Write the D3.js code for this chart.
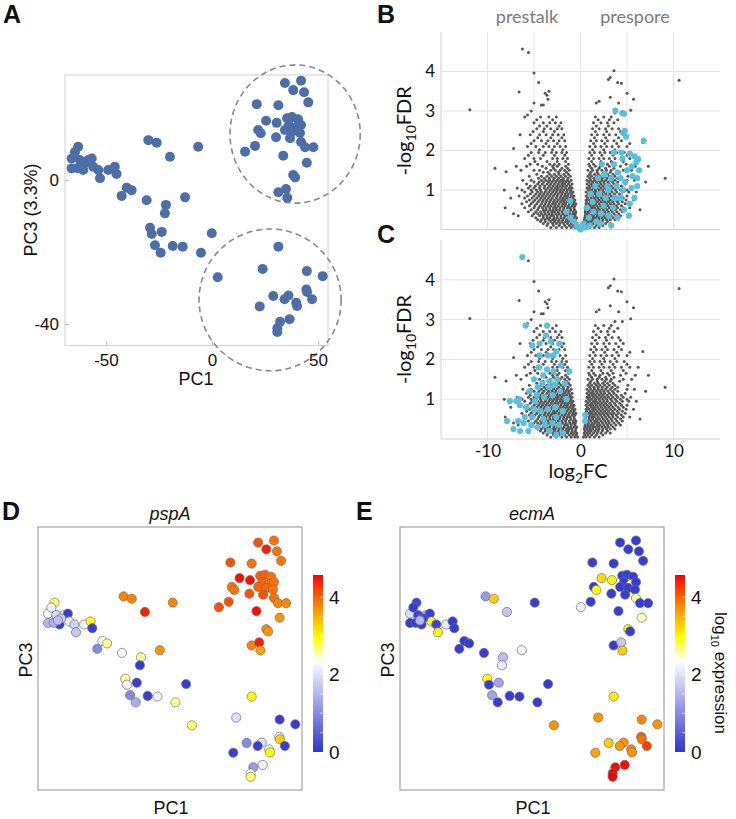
<!DOCTYPE html>
<html>
<head>
<meta charset="utf-8">
<script src="https://cdn.jsdelivr.net/npm/d3@7"></script>
<style>
body { margin: 0; background: #fff; }
text { font-family: "Liberation Sans", Arial, sans-serif; fill: #111; }
.cal { font-family: Lato, "Open Sans", sans-serif; }
</style>
</head>
<body>
<svg id="fig" width="736" height="819"></svg>
<script>
// ---- PCA samples (panels A, D, E share them) ----
var pc1 = [-63.1,-66.2,-66.2,-62.3,-60.7,-58.3,-56.7,-56.0,-59.9,-53.6,-52.8,-48.9,-45.8,-45.0,-63.5,-64.6,-61.5,
    -42.6,-40.2,-37.9,-30.8,-21.7,-22.2,-12.7,-30.0,-26.1,-19.8,-6.5,-29.2,-28.4,-23.7,-26.9,-24.2,-18.5,-13.8,-5.2,-0.1,2.7,
    34.4,42.0,38.3,43.4,45.4,21.1,31.3,25.5,21.8,23.0,30.5,35.4,37.7,40.6,36.3,39.6,42.0,34.4,38.2,41.5,30.2,36.8,20.3,15.6,
    42.0,43.9,47.8,33.6,44.7,38.3,39.2,31.3,34.9,35.5,
    31.3,23.9,44.7,52.2,28.9,36.1,34.2,44.5,44.8,39.7,40.1,47.2,22.5,32.1,36.6,30.8,30.8];
var pc3 = [9.25,6.0,3.25,5.6,2.8,5.6,6.0,3.7,4.6,2.8,0.5,2.8,3.7,1.7,3.3,7.8,4.0,
    -4.4,-2.1,-2.8,-5.6,-6.9,-9.25,-4.8,11.1,10.4,6.5,9.25,-13.25,-15.0,-14.4,-18.1,-20.2,-18.3,-18.5,-20.2,-14.8,-27.0,
    27.0,27.6,25.0,24.4,21.6,21.1,20.8,16.5,13.9,13.0,15.9,17.2,17.5,16.9,15.3,14.7,15.3,13.9,13.6,13.1,11.9,11.6,9.5,7.9,
    10.6,9.1,9.1,6.75,4.8,1.4,0.75,-3.4,-2.5,-4.9,
    -18.5,-24.7,-25.3,-26.7,-32.2,-32.1,-33.1,-30.4,-31.1,-34.1,-35.0,-33.1,-35.1,-39.4,-38.7,-41.2,-42.2];
var pspA = [2.7,2.3,1.5,1.9,0.1,2.6,0.1,2.2,1.7,1.8,1.7,2.2,2.9,0.1,1.4,2.2,1.6,
    1.0,2.3,2.6,2.3,2.6,0.1,3.7,3.8,3.8,4.4,3.8,2.6,2.2,0.1,1.0,1.4,0.1,2.2,2.6,0.1,2.7,
    4.1,3.9,4.4,3.9,3.9,4.1,3.9,4.5,3.9,3.9,4.5,4.0,4.0,3.9,4.0,3.9,3.9,4.0,3.95,3.9,4.1,4.1,4.1,4.1,
    3.9,3.8,3.8,4.5,3.7,3.7,3.7,3.8,4.4,3.6,
    2.95,2.0,0.1,0.1,1.0,2.0,0.1,2.3,3.3,2.3,2.95,0.1,0.1,1.2,2.2,2.3,2.7];
var ecmA = [0.2,2.0,0.1,0.2,0.1,1.4,0.1,3.0,0.2,0.2,3.0,2.1,0.1,0.1,0.1,0.1,1.5,
    0.1,0.1,0.1,0.1,1.6,2.1,2.2,1.2,3.3,1.7,0.1,2.95,0.1,1.3,1.3,0.1,0.1,0.1,0.1,0.1,3.7,
    0.1,0.1,0.1,0.1,0.1,0.1,0.1,3.2,0.1,2.95,3.0,0.1,0.1,0.1,0.1,2.6,0.1,0.1,0.1,0.1,0.1,0.1,0.1,2.2,
    2.6,0.1,0.1,0.1,2.5,2.95,0.1,0.1,1.7,3.3,
    3.1,3.7,3.8,3.7,3.3,3.7,3.7,4.0,3.9,3.8,3.7,4.2,3.6,4.5,4.5,4.6,4.6];

// dashed rings around the two clusters in A (data units: centre x, centre y, half-width, half-height)
var ringCx = [39.2, 27.4];
var ringCy = [12.8, -33.3];
var ringRx = [30.7, 33.5];
var ringRy = [19.2, 19.7];

var pcaXTicks = [-50, 0, 50];
var pcaYTicks = [0, -40];

// ---- volcano plots (B, C): all genes, log2FC by -log10FDR, one row per FDR level ----
var grayRows = [
    [0.05, [-3.2,-2.6,-2.0,-1.5,-1.0,-0.6,-0.3, 0.3,0.6,1.0,1.5,2.0]],
    [0.1,  [-3.6,-2.9,-2.3,-1.7,-1.2,-0.8,-0.45, 0.45,0.8,1.2,1.7,2.4]],
    [0.15, [-4.0,-3.5,-3.0,-2.6,-2.2,-1.8,-1.4,-1.0,-0.7,-0.4, 0.4,0.7,1.0,1.4,1.8,2.2,2.7,3.2]],
    [0.2,  [-4.3,-3.8,-3.2,-2.8,-2.4,-2.0,-1.6,-1.3,-0.9,-0.55, 0.5,0.85,1.15,1.55,1.9,2.35,2.9]],
    [0.25, [-4.6,-4.2,-3.8,-3.4,-3.0,-2.7,-2.3,-1.9,-1.5,-1.2,-0.9,-0.5, 0.4,0.7,1.0,1.3,1.7,2.0,2.4,2.8,3.2,3.7]],
    [0.3,  [-4.8,-4.0,-3.6,-3.3,-2.85,-2.5,-2.1,-1.75,-1.35,-1.05,-0.7,-0.4, 0.45,0.75,1.05,1.35,1.6,1.95,2.3,2.65,3.0,3.5]],
    [0.35, [-5.2,-4.4,-4.0,-3.6,-3.2,-2.9,-2.5,-2.1,-1.7,-1.4,-1.0,-0.6, 0.5,0.8,1.1,1.4,1.8,2.1,2.5,2.9,3.3,3.8,4.3]],
    [0.4,  [-5.0,-4.6,-4.2,-3.8,-3.4,-3.05,-2.65,-2.3,-1.9,-1.55,-1.15,-0.8,-0.55, 0.55,0.85,1.25,1.6,1.95,2.35,2.75,3.1,3.6,4.1]],
    [0.45, [-5.6,-4.8,-4.3,-3.9,-3.5,-3.1,-2.8,-2.4,-2.0,-1.6,-1.2,-0.8,-0.5, 0.5,0.8,1.1,1.5,1.8,2.2,2.6,3.0,3.4,3.9,4.5]],
    [0.5,  [-5.3,-4.6,-4.0,-3.7,-3.3,-2.95,-2.6,-2.25,-1.85,-1.5,-1.05,-0.65, 0.55,0.95,1.3,1.7,2.05,2.45,2.85,3.3,3.75,4.3]],
    [0.55, [-6.0,-5.0,-4.5,-4.1,-3.7,-3.3,-2.9,-2.6,-2.2,-1.8,-1.4,-1.1,-0.7, 0.5,0.9,1.2,1.5,1.9,2.3,2.7,3.1,3.5,4.0,4.6,5.3]],
    [0.6,  [-5.5,-4.9,-4.35,-3.9,-3.5,-3.15,-2.75,-2.4,-2.0,-1.65,-1.3,-0.9,-0.6, 0.6,1.05,1.4,1.75,2.15,2.55,2.95,3.4,3.85,4.4]],
    [0.65, [-6.3,-5.3,-4.7,-4.2,-3.8,-3.4,-3.0,-2.7,-2.3,-1.9,-1.6,-1.2,-0.8,-0.5, 0.6,0.9,1.2,1.6,2.0,2.4,2.8,3.2,3.6,4.1,4.8]],
    [0.7,  [-5.8,-5.1,-4.55,-4.1,-3.7,-3.3,-2.9,-2.55,-2.15,-1.8,-1.45,-1.05,-0.7, 0.65,1.05,1.4,1.8,2.2,2.6,3.0,3.45,3.95,4.5]],
    [0.75, [-5.5,-4.9,-4.4,-4.0,-3.6,-3.2,-2.8,-2.4,-2.0,-1.7,-1.3,-0.9,-0.6, 0.6,0.9,1.3,1.6,2.0,2.4,2.8,3.2,3.7,4.2,4.9,5.7]],
    [0.8,  [-6.0,-5.2,-4.7,-4.25,-3.85,-3.45,-3.05,-2.6,-2.2,-1.85,-1.5,-1.15,-0.8, 0.75,1.15,1.5,1.85,2.25,2.65,3.05,3.5,4.05,4.6]],
    [0.85, [-6.6,-5.7,-5.0,-4.5,-4.1,-3.7,-3.3,-2.9,-2.5,-2.1,-1.7,-1.4,-1.0,-0.7, 0.6,1.0,1.3,1.7,2.1,2.5,2.9,3.3,3.8,4.4,5.0]],
    [0.9,  [-5.4,-4.8,-4.35,-3.95,-3.55,-3.15,-2.75,-2.4,-2.0,-1.65,-1.3,-0.95, 0.8,1.2,1.55,1.9,2.3,2.7,3.15,3.65,4.2]],
    [0.95, [-6.0,-5.2,-4.6,-4.2,-3.8,-3.4,-3.0,-2.6,-2.2,-1.9,-1.5,-1.1,-0.8, 0.6,1.0,1.4,1.7,2.1,2.5,2.9,3.4,3.9,4.5,5.2,6.0]],
    [1.0,  [-6.3,-5.3,-4.75,-4.3,-3.7,-3.25,-2.85,-2.5,-2.15,-1.8,-1.4,-1.05, 0.85,1.2,1.6,2.0,2.4,2.8,3.25,3.75,4.3,5.0]],
    [1.05, [-6.8,-5.6,-5.0,-4.4,-3.9,-3.5,-3.1,-2.7,-2.4,-2.0,-1.6,-1.2,-0.9, 0.7,1.0,1.4,1.8,2.2,2.6,3.0,3.5,4.0,4.6,5.4]],
    [1.1,  [-5.4,-4.85,-4.35,-3.85,-3.35,-2.95,-2.55,-2.2,-1.85,-1.5,-1.1, 0.9,1.25,1.6,2.0,2.4,2.85,3.3,3.85,4.4]],
    [1.15, [-5.8,-4.6,-4.1,-3.6,-3.2,-2.8,-2.4,-2.0,-1.7,-1.3,-0.9, 0.7,1.1,1.4,1.8,2.2,2.6,3.1,3.6,4.8]],
    [1.2,  [-5.0,-4.45,-3.95,-3.45,-3.05,-2.65,-2.25,-1.9,-1.55,-1.2, 0.9,1.3,1.7,2.1,2.5,2.95,3.45,4.0]],
    [1.25, [-6.2,-5.3,-4.2,-3.7,-3.3,-2.9,-2.5,-2.1,-1.8,-1.4,-1.0, 0.7,1.1,1.5,1.9,2.3,2.7,3.2,3.7,5.0,5.8]],
    [1.3,  [-4.5,-3.9,-3.35,-2.85,-2.35,-1.85,-1.35, 1.0,1.45,1.9,2.35,2.85,3.4,4.0]],
    [1.35, [-5.5,-4.2,-3.6,-3.1,-2.6,-2.1,-1.6,-1.1, 0.8,1.2,1.7,2.1,2.6,3.1,3.7,5.1]],
    [1.4,  [-4.7,-3.3,-2.8,-2.3,-1.8,-1.3, 1.0,1.5,1.9,2.4,2.9,3.5]],
    [1.45, [-4.0,-3.5,-2.4,-1.5, 1.1,1.8,2.6,3.2,4.2]],
    [1.5,  [-6.4,-5.0,-4.4,-3.2,-2.7,-2.2,-1.7,-1.2, 0.8,1.3,1.8,2.3,2.8,3.3,4.6,5.5]],
    [1.55, [-3.7,-2.9,-2.0,-1.4, 1.2,2.0,2.7,3.6]],
    [1.6,  [-5.8,-4.1,-3.0,-2.5,-1.6, 1.0,1.6,2.1,3.1,4.3,5.9]],
    [1.65, [-5.4,-4.6,-3.3,-2.8,-2.3,-1.3, 0.9,1.4,2.4,2.9,3.5,4.9]],
    [1.72, [-4.9,-3.6,-2.5,-1.6, 1.2,2.2,3.3,4.6]],
    [1.8,  [-6.0,-5.0,-4.3,-3.0,-2.5,-1.9,-1.4, 0.9,1.4,2.0,2.5,3.1,3.7,4.4,5.3,6.2]],
    [1.88, [-5.6,-4.0,-2.8,-1.7, 1.2,2.3,3.5,5.0]],
    [1.95, [-5.3,-4.5,-3.8,-3.1,-2.6,-2.0,-1.5, 1.0,1.5,2.1,2.6,3.2,3.9,4.7]],
    [2.02, [-4.4,-3.0,-1.9, 1.3,2.5,3.7]],
    [2.1,  [-5.7,-4.8,-4.0,-3.4,-2.8,-2.2,-1.6, 1.0,1.6,2.2,2.8,3.4,4.1,5.0]],
    [2.18, [-5.3,-3.7,-2.5, 1.4,2.6,3.9,5.3]],
    [2.25, [-5.0,-4.2,-3.5,-2.9,-2.3,-1.7, 1.1,1.7,2.3,2.9,3.6,4.4]],
    [2.32, [-4.6,-3.2,-2.0, 1.5,2.7,4.1]],
    [2.4,  [-5.4,-4.4,-3.7,-3.0,-2.4,-1.8, 1.2,1.8,2.5,3.1,3.8,4.6]],
    [2.48, [-5.1,-4.0,-2.8, 1.6,2.8,4.3]],
    [2.55, [-4.7,-3.9,-3.2,-2.5,-2.0, 1.3,2.0,2.7,3.4,4.1]],
    [2.62, [-4.4,-3.6,-2.3, 1.7,3.0]],
    [2.7,  [-5.0,-4.0,-3.3,-2.7,-2.1, 1.4,2.2,2.9,3.6]],
    [2.78, [-4.7,-3.0, 1.9,3.1,4.0]],
    [2.85, [-4.3,-3.4,-2.6, 1.6,2.5,3.3]]
];
var grayOutliers = [
    [-11.9,3.03],[-6.25,4.57],[-5.6,4.48],[-5.0,3.96],[-6.6,3.48],[-4.5,3.72],[-3.8,3.45],[-3.6,3.4],[-3.4,3.5],
    [-3.5,3.3],[-4.2,3.15],[-4.0,3.15],[-5.0,3.2],[-5.3,3.0],[-6.0,2.85],[-5.7,2.9],[-9.2,1.55],[-8.0,1.46],
    [-8.2,1.0],[-7.2,2.05],[-7.2,0.4],[-8.1,0.55],[-6.7,0.35],[-7.5,0.8],[-6.9,1.6],[-6.5,2.4],
    [10.6,3.78],[9.1,1.3],[3.6,4.02],[3.0,3.8],[3.2,3.85],[4.0,3.72],[4.4,3.7],[5.0,3.45],[5.7,3.3],[5.4,3.02],
    [1.7,3.2],[3.2,3.35],[4.1,3.2],[2.0,3.25],[3.7,2.95],[4.5,2.95],[6.7,2.2],[7.0,1.2],[7.3,1.6],[6.4,0.5]
];
// prespore-enriched genes (B)
var cyanB = [
    [3.75,3.01],[4.5,2.95],[4.7,2.93],[4.75,2.5],[4.9,2.35],[4.6,2.45],[6.8,2.25],[3.6,1.95],[4.4,1.95],[5.3,1.92],
    [5.8,1.85],[6.2,1.78],[6.0,1.7],[2.3,1.65],[3.6,1.65],[4.5,1.8],[5.5,1.6],[2.9,1.1],[3.0,1.0],[4.3,1.3],
    [4.8,1.2],[6.1,1.3],[6.1,1.1],[1.6,1.1],[2.0,0.9],[3.7,0.8],[4.3,0.8],[5.3,0.65],[5.8,0.8],[5.0,1.5],
    [4.0,1.45],[3.3,1.3],[2.6,1.4],[1.9,1.3],[4.6,1.0],[5.5,1.05],[3.5,0.55],[2.5,0.6],[1.3,0.7],[2.2,0.4],
    [3.0,0.35],[4.0,0.3],[1.7,0.2],[0.9,0.3],[1.4,0.45],[2.7,0.8],[3.9,1.1],[5.2,0.35],[4.7,0.5],[1.0,0.1],
    [0.5,0.05],[0.0,0.0],[0.3,0.15],[-0.2,0.05],[0.7,0.55],[2.1,0.15],[1.1,0.9],[3.3,0.1],[-1.1,0.72],[-1.5,0.45],
    [-1.1,0.3],[-0.7,0.2],[-0.4,0.1],[5.6,1.35],[6.3,1.5]
];
// prestalk-enriched genes (C)
var cyanC = [
    [-6.25,4.57],[-5.9,2.85],[-3.6,2.85],[-3.7,2.6],[-4.4,2.4],[-3.2,2.45],[-2.3,2.4],[-5.2,2.35],[-4.4,2.1],[-3.5,2.1],
    [-2.9,2.1],[-2.6,2.2],[-4.5,1.8],[-3.6,1.75],[-2.9,1.7],[-2.1,1.85],[-5.0,1.5],[-4.1,1.4],[-3.3,1.45],[-2.5,1.5],
    [-1.7,1.4],[-7.6,0.95],[-6.9,0.95],[-6.5,0.85],[-6.6,1.0],[-7.9,0.45],[-6.7,0.45],[-5.5,1.2],[-4.7,1.1],[-3.9,1.05],
    [-3.0,1.1],[-2.2,1.2],[-1.5,1.0],[-5.8,0.8],[-5.0,0.75],[-4.3,0.7],[-3.5,0.75],[-2.7,0.8],[-1.9,0.7],[-6.1,0.4],
    [-5.3,0.35],[-4.6,0.3],[-3.8,0.35],[-3.0,0.4],[-2.3,0.35],[0.5,0.45],[0.5,0.6],[-2.6,0.55],[-4.0,0.5],[-5.2,0.55],
    [-3.4,1.3],[-4.6,1.3],[-2.8,1.35],[-1.2,1.7],[-4.0,1.6],[-4.9,0.95],[-6.0,0.55],[-5.6,0.2],[-6.5,0.2],[-7.2,0.25],
    [-3.3,0.2],[-2.6,0.1],[-1.9,0.15]
];
var fcTicks = [-10, 0, 10];
var fcGrid = [-10, -5, 0, 5, 10];
var fdrTicks = [1, 2, 3, 4];

// ---- expression colour map (D, E) ----
var exprStops = [0, 2.35, 2.95, 3.7, 4.57];
var exprColors = ["#2e34d2", "#ffffff", "#ffff00", "#ff9400", "#ff0000"];
var exprTicks = [0, 2, 4];

var svg = d3.select("#fig");
var defs = svg.append("defs");

function panelLabel(t, x, y) {
    svg.append("text").attr("x", x).attr("y", y)
        .attr("font-size", 25).attr("font-weight", "bold").text(t);
}

function styleAxis(g, size) {
    g.select(".domain").remove();
    g.selectAll("text").attr("font-size", size).attr("fill", "#111").style("font-family", null);
}

// ================= A =================
(function () {
    var x = d3.scaleLinear().domain([-69.3, 54.7]).range([65, 328]),
        y = d3.scaleLinear().domain([-46, 29.2]).range([345.6, 75]);

    svg.append("rect").attr("x", 65).attr("y", 75).attr("width", 263).attr("height", 270.6)
        .attr("fill", "none").attr("stroke", "#d0d0d0");

    svg.append("g").selectAll("circle")
        .data(d3.range(pc1.length))
        .enter().append("circle")
        .attr("cx", function (i) { return x(pc1[i]); })
        .attr("cy", function (i) { return y(pc3[i]); })
        .attr("r", 5)
        .attr("fill", "#4d6ea6");

    svg.append("g").selectAll("ellipse")
        .data(d3.range(ringCx.length))
        .enter().append("ellipse")
        .attr("cx", function (i) { return x(ringCx[i]); })
        .attr("cy", function (i) { return y(ringCy[i]); })
        .attr("rx", function (i) { return x(ringCx[i] + ringRx[i]) - x(ringCx[i]); })
        .attr("ry", function (i) { return y(ringCy[i] - ringRy[i]) - y(ringCy[i]); })
        .attr("fill", "none").attr("stroke", "#888").attr("stroke-width", 1.6)
        .attr("stroke-dasharray", "6,4");

    var gx = svg.append("g").attr("transform", "translate(0,345.6)")
        .call(d3.axisBottom(x).tickValues(pcaXTicks).tickSize(-4).tickPadding(8).tickFormat(String));
    styleAxis(gx, 17);
    gx.selectAll("line").attr("stroke", "#bbb");

    var gy = svg.append("g").attr("transform", "translate(65,0)")
        .call(d3.axisLeft(y).tickValues(pcaYTicks).tickSize(-4).tickPadding(6).tickFormat(String));
    styleAxis(gy, 17);
    gy.selectAll("line").attr("stroke", "#bbb");

    svg.append("text").attr("x", 196).attr("y", 385).attr("text-anchor", "middle")
        .attr("font-size", 18).text("PC1");
    svg.append("text").attr("transform", "translate(37,210) rotate(-90)").attr("text-anchor", "middle")
        .attr("font-size", 18).text("PC3 (3.3%)");
})();

// ================= B, C =================
function drawVolcano(top, bottom, cyan, showX) {
    var x = d3.scaleLinear().domain([-15, 15]).range([441, 720]),
        y = d3.scaleLinear().domain([0, 5]).range([bottom, top]);

    var grid = svg.append("g");
    grid.selectAll(".v").data(fcGrid).enter().append("line")
        .attr("x1", x).attr("x2", x).attr("y1", top).attr("y2", bottom)
        .attr("stroke", "#e4e4e4");
    grid.selectAll(".h").data(fdrTicks).enter().append("line")
        .attr("x1", 441).attr("x2", 720).attr("y1", y).attr("y2", y)
        .attr("stroke", "#e4e4e4");
    grid.append("line").attr("x1", 441).attr("x2", 441).attr("y1", top).attr("y2", bottom).attr("stroke", "#cfcfcf");
    grid.append("line").attr("x1", 441).attr("x2", 720).attr("y1", bottom).attr("y2", bottom).attr("stroke", "#cfcfcf");

    var pts = [];
    grayRows.forEach(function (r) {
        r[1].forEach(function (v) { pts.push([v, r[0]]); });
    });
    pts = pts.concat(grayOutliers);

    svg.append("g").selectAll("circle").data(pts).enter().append("circle")
        .attr("cx", function (d) { return x(d[0]); })
        .attr("cy", function (d) { return y(d[1]); })
        .attr("r", 1.5).attr("fill", "#555555");

    svg.append("g").selectAll("circle").data(cyan).enter().append("circle")
        .attr("cx", function (d) { return x(d[0]); })
        .attr("cy", function (d) { return y(d[1]); })
        .attr("r", 3.1).attr("fill", "#5bbfdc");

    var gy = svg.append("g").attr("transform", "translate(441,0)")
        .call(d3.axisLeft(y).tickValues(fdrTicks).tickSize(0).tickPadding(6).tickFormat(String));
    styleAxis(gy, 17);
    gy.selectAll("text").attr("class", "cal");

    var lab = svg.append("text").attr("class", "cal")
        .attr("transform", "translate(411," + ((top + bottom) / 2) + ") rotate(-90)")
        .attr("text-anchor", "middle").attr("font-size", 20);
    lab.append("tspan").text("-log");
    lab.append("tspan").attr("font-size", 14).attr("dy", 5).text("10");
    lab.append("tspan").attr("dy", -5).text("FDR");

    if (showX) {
        var gx = svg.append("g").attr("transform", "translate(0," + bottom + ")")
            .call(d3.axisBottom(x).tickValues(fcTicks).tickSize(0).tickPadding(6).tickFormat(String));
        styleAxis(gx, 17);
        gx.selectAll("text").attr("class", "cal");
        var xl = svg.append("text").attr("class", "cal").attr("x", 578).attr("y", bottom + 39)
            .attr("text-anchor", "middle").attr("font-size", 20);
        xl.append("tspan").text("log");
        xl.append("tspan").attr("font-size", 14).attr("dy", 5).text("2");
        xl.append("tspan").attr("dy", -5).text("FC");
    }
}
drawVolcano(32, 229.5, cyanB, false);
drawVolcano(240, 439, cyanC, true);

svg.append("text").attr("class", "cal").attr("x", 527).attr("y", 23).attr("text-anchor", "middle")
    .attr("font-size", 18).style("fill", "#7a7a7a").text("prestalk");
svg.append("text").attr("class", "cal").attr("x", 635).attr("y", 23).attr("text-anchor", "middle")
    .attr("font-size", 18).style("fill", "#7a7a7a").text("prespore");

// ================= D, E =================
var color = d3.scaleLinear().domain(exprStops).range(exprColors);

var grad = defs.append("linearGradient").attr("id", "exprGrad")
    .attr("x1", 0).attr("y1", 1).attr("x2", 0).attr("y2", 0);
grad.selectAll("stop").data(exprStops).enter().append("stop")
    .attr("offset", function (d) { return d / exprStops[exprStops.length - 1]; })
    .attr("stop-color", function (d) { return color(d); });

function drawExpr(left, values, title, withLabel) {
    var x = d3.scaleLinear().domain([-71, 55.4]).range([left, left + 264]),
        y = d3.scaleLinear().domain([-46.1, 31.6]).range([790, 527]);

    svg.append("rect").attr("x", left).attr("y", 527).attr("width", 264).attr("height", 263)
        .attr("fill", "none").attr("stroke", "#ababab").attr("stroke-width", 1.3);

    svg.append("g").selectAll("circle")
        .data(d3.range(pc1.length))
        .enter().append("circle")
        .attr("cx", function (i) { return x(pc1[i]); })
        .attr("cy", function (i) { return y(pc3[i]); })
        .attr("r", 4.6)
        .attr("fill", function (i) { return color(values[i]); })
        .attr("stroke", "#6e6e6e").attr("stroke-width", 0.7);

    svg.append("text").attr("x", left + 132).attr("y", 520).attr("text-anchor", "middle")
        .attr("font-size", 18).attr("font-style", "italic").text(title);
    svg.append("text").attr("x", left + 133).attr("y", 814).attr("text-anchor", "middle")
        .attr("font-size", 18).text("PC1");
    svg.append("text").attr("transform", "translate(" + (left - 6) + ",660) rotate(-90)")
        .attr("text-anchor", "middle").attr("font-size", 18).text("PC3");

    // colour bar
    var bx = left + 275,
        cy = d3.scaleLinear().domain([0, exprStops[exprStops.length - 1]]).range([752, 575]);
    svg.append("rect").attr("x", bx).attr("y", 575).attr("width", 10).attr("height", 177)
        .attr("fill", "url(#exprGrad)");
    svg.append("g").selectAll("line").data(d3.range(0.5, 4.5, 0.5)).enter().append("line")
        .attr("x1", bx + 7).attr("x2", bx + 10).attr("y1", cy).attr("y2", cy)
        .attr("stroke", "#ffffff").attr("stroke-opacity", 0.6);
    var gc = svg.append("g").attr("transform", "translate(" + (bx + 10) + ",0)")
        .call(d3.axisRight(cy).tickValues(exprTicks).tickSize(0).tickPadding(6).tickFormat(String));
    styleAxis(gc, 19);

    if (withLabel) {
        var t = svg.append("text").attr("transform", "translate(715,673) rotate(90)")
            .attr("text-anchor", "middle").attr("font-size", 17);
        t.append("tspan").text("log");
        t.append("tspan").attr("font-size", 11).attr("dy", 4).text("10");
        t.append("tspan").attr("dy", -4).text(" expression");
    }
}
drawExpr(38, pspA, "pspA", false);
drawExpr(400, ecmA, "ecmA", true);

panelLabel("A", 3, 23);
panelLabel("B", 377, 23);
panelLabel("C", 377, 243);
panelLabel("D", 2, 520);
panelLabel("E", 356, 520);
</script>
</body>
</html>
